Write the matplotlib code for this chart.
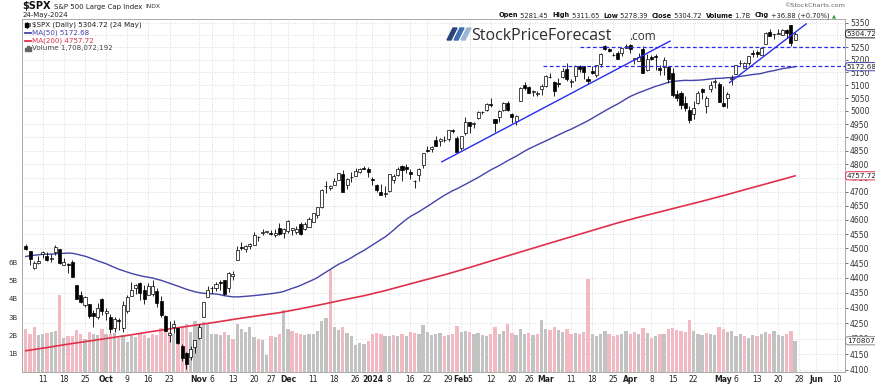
import numpy as np
import pandas as pd
import matplotlib
matplotlib.use("Agg")
import matplotlib.pyplot as plt
import matplotlib.transforms as mtransforms
from matplotlib.lines import Line2D
from matplotlib.patches import Polygon, Rectangle
from matplotlib.ticker import FixedLocator, FixedFormatter, NullLocator

W, H = 875, 385

# ---- daily $SPX data, 5 Sep 2023 .. 24 May 2024 ----
opens = [
    4510.06, 4490.35, 4434.55, 4451.30, 4480.98, 4473.27, 4462.65, 4487.78, 4497.98, 4445.13,
    4445.41, 4452.81, 4374.36, 4341.74, 4310.62, 4312.88, 4282.63, 4269.65, 4328.18,
    4284.52, 4269.75, 4233.83, 4259.31, 4234.79, 4289.02, 4339.75, 4366.59, 4380.94, 4360.49,
    4342.37, 4345.23, 4357.35, 4321.36, 4273.85, 4210.40, 4235.79, 4232.42, 4175.99, 4152.93,
    4139.39, 4171.33, 4201.27, 4268.26, 4334.23,
    4364.27, 4366.21, 4384.37, 4391.41, 4364.15, 4406.66, 4458.97, 4505.30, 4497.08, 4509.55,
    4511.70, 4538.77, 4553.04, 4555.84, 4554.86, 4545.55, 4571.84, 4554.87,
    4559.43, 4564.37, 4557.25, 4586.23, 4568.84, 4576.20, 4593.39, 4618.30, 4646.20, 4721.04,
    4714.23, 4725.58, 4743.72, 4764.73, 4724.29, 4753.92, 4758.86, 4773.45, 4786.44, 4782.88,
    4745.20, 4725.07, 4697.42, 4690.57, 4703.70, 4741.93, 4759.94, 4792.13, 4791.18, 4772.35,
    4739.13, 4760.10, 4796.28, 4853.42, 4856.80, 4888.56, 4886.66, 4888.91, 4892.95, 4925.89,
    4899.19, 4861.11, 4916.06,
    4957.19, 4950.16, 4973.05, 4995.16, 5004.17, 5026.83, 4967.94, 4976.44, 5003.14, 5031.13,
    4989.32, 4963.03, 5038.83, 5100.92, 5093.00, 5074.60, 5067.20, 5085.36,
    5098.51, 5130.99, 5110.52, 5108.03, 5132.38, 5164.46, 5111.96, 5134.30, 5173.49, 5175.14,
    5123.31, 5154.77, 5139.09, 5181.69, 5253.43, 5242.48, 5219.52, 5228.85, 5226.31, 5248.03,
    5257.97, 5204.29, 5194.37, 5244.05, 5158.95, 5211.37, 5217.03, 5167.88, 5172.95, 5171.51,
    5149.67, 5064.59, 5068.97, 5031.52, 5005.44, 4987.33, 5028.85, 5084.86, 5019.88, 5084.65,
    5114.13, 5103.78, 5029.03, 5049.32, 5122.78,
    5142.42, 5187.20, 5168.98, 5189.03, 5225.49, 5233.08, 5221.10, 5263.26, 5310.07, 5303.10,
    5305.35, 5298.69, 5319.28, 5340.26, 5281.45]
highs = [
    4514.29, 4490.35, 4457.81, 4473.53, 4490.77, 4487.11, 4479.39, 4511.99, 4497.98, 4466.36,
    4449.85, 4461.03, 4375.70, 4357.40, 4338.51, 4313.01, 4292.07, 4317.27, 4333.15,
    4300.58, 4281.15, 4268.50, 4267.13, 4324.10, 4341.73, 4385.46, 4378.64, 4385.85, 4377.10,
    4383.33, 4393.57, 4364.20, 4339.54, 4276.56, 4255.84, 4259.38, 4232.42, 4183.60, 4156.70,
    4177.47, 4195.55, 4245.64, 4319.72, 4373.62,
    4372.21, 4386.26, 4391.20, 4393.40, 4418.03, 4421.76, 4508.67, 4521.17, 4511.99, 4520.12,
    4557.11, 4542.14, 4568.43, 4560.31, 4564.37, 4568.14, 4587.64, 4569.89,
    4599.39, 4572.37, 4578.56, 4590.74, 4590.92, 4609.23, 4623.71, 4643.93, 4709.69, 4738.57,
    4725.53, 4749.52, 4768.69, 4778.01, 4748.71, 4772.94, 4784.72, 4785.39, 4793.30, 4788.43,
    4754.33, 4729.29, 4726.78, 4721.49, 4764.54, 4765.47, 4790.80, 4798.50, 4802.40, 4782.34,
    4744.23, 4785.79, 4842.07, 4868.41, 4866.48, 4903.68, 4898.15, 4906.69, 4929.31, 4931.09,
    4906.75, 4906.97, 4975.29,
    4957.19, 4957.77, 4999.89, 5000.40, 5030.06, 5048.39, 4971.30, 5002.52, 5032.72, 5038.70,
    4993.71, 4983.21, 5094.39, 5111.06, 5097.66, 5080.69, 5077.37, 5104.99,
    5140.33, 5149.67, 5114.54, 5127.97, 5165.62, 5189.26, 5124.66, 5179.87, 5179.14, 5176.85,
    5136.86, 5175.60, 5180.31, 5226.19, 5261.10, 5246.09, 5229.09, 5235.16, 5249.26, 5264.85,
    5263.95, 5208.34, 5228.75, 5256.59, 5222.18, 5219.57, 5224.81, 5178.43, 5211.78, 5175.03,
    5168.43, 5079.84, 5077.96, 5056.66, 5019.02, 5038.84, 5076.12, 5089.48, 5057.75, 5114.62,
    5123.49, 5110.83, 5096.12, 5073.21, 5139.12,
    5181.00, 5200.23, 5191.95, 5215.30, 5239.66, 5237.26, 5250.37, 5311.76, 5325.49, 5305.45,
    5325.32, 5324.32, 5323.18, 5341.88, 5311.65]
lows = [
    4496.01, 4442.38, 4430.46, 4448.38, 4467.89, 4456.83, 4453.52, 4478.69, 4447.21, 4442.11,
    4416.61, 4401.38, 4329.17, 4316.49, 4302.70, 4265.98, 4238.63, 4264.38, 4274.86,
    4260.21, 4216.45, 4220.48, 4225.91, 4219.55, 4283.79, 4339.64, 4345.34, 4325.43, 4311.97,
    4342.37, 4337.54, 4303.84, 4269.69, 4223.03, 4189.22, 4219.43, 4181.42, 4127.90, 4103.78,
    4132.94, 4153.12, 4197.74, 4268.26, 4334.23,
    4347.53, 4355.41, 4359.76, 4343.94, 4353.34, 4393.82, 4458.97, 4495.31, 4487.83, 4499.66,
    4510.36, 4525.51, 4545.05, 4552.80, 4545.07, 4540.51, 4547.15, 4537.24,
    4554.71, 4546.72, 4551.68, 4546.50, 4565.22, 4574.06, 4593.39, 4608.09, 4643.23, 4694.34,
    4704.69, 4725.58, 4743.72, 4697.82, 4708.35, 4736.77, 4758.45, 4768.90, 4780.98, 4751.99,
    4722.67, 4699.71, 4687.53, 4682.11, 4699.82, 4730.35, 4756.20, 4739.58, 4768.98, 4747.12,
    4714.82, 4740.57, 4785.87, 4844.05, 4844.37, 4865.94, 4869.34, 4881.47, 4887.40, 4916.27,
    4845.15, 4853.52, 4907.99,
    4918.09, 4934.88, 4969.05, 4987.09, 5000.34, 5016.83, 4920.31, 4956.45, 4999.44, 4999.52,
    4955.02, 4946.00, 5038.83, 5081.46, 5068.91, 5057.29, 5058.35, 5061.89,
    5094.16, 5127.18, 5056.82, 5092.22, 5128.21, 5117.50, 5091.14, 5114.48, 5151.88, 5123.30,
    5104.35, 5145.47, 5131.59, 5171.55, 5240.66, 5229.87, 5216.09, 5203.42, 5213.92, 5245.82,
    5229.20, 5184.05, 5194.37, 5146.06, 5157.21, 5197.35, 5160.78, 5138.70, 5138.77, 5107.94,
    5052.47, 5039.83, 5007.25, 5001.89, 4953.56, 4969.40, 5027.96, 5047.02, 4990.58, 5073.14,
    5088.65, 5035.31, 5013.45, 5011.05, 5101.22,
    5142.42, 5178.96, 5165.86, 5180.41, 5209.68, 5211.16, 5217.98, 5263.26, 5296.19, 5283.59,
    5302.40, 5297.87, 5286.01, 5256.93, 5278.39]
closes = [
    4496.83, 4465.48, 4451.14, 4457.49, 4487.46, 4461.90, 4467.44, 4505.10, 4450.32, 4453.53,
    4443.95, 4402.20, 4330.00, 4320.06, 4337.44, 4273.53, 4274.51, 4299.70, 4288.05,
    4288.39, 4229.45, 4263.75, 4258.19, 4308.50, 4335.66, 4358.24, 4376.95, 4349.61, 4327.78,
    4373.63, 4373.20, 4314.60, 4278.00, 4224.16, 4217.04, 4247.68, 4186.77, 4137.23, 4117.37,
    4166.82, 4193.80, 4237.86, 4317.78, 4358.34,
    4365.98, 4378.38, 4382.78, 4347.35, 4415.24, 4411.55, 4495.70, 4502.88, 4508.24, 4514.02,
    4547.38, 4538.19, 4556.62, 4559.34, 4550.43, 4554.89, 4550.58, 4567.80,
    4594.63, 4569.78, 4567.18, 4549.34, 4585.59, 4604.37, 4622.44, 4643.70, 4707.09, 4719.55,
    4719.19, 4740.56, 4768.37, 4698.35, 4746.75, 4754.63, 4774.75, 4781.58, 4783.35, 4769.83,
    4742.83, 4704.81, 4688.68, 4697.24, 4763.54, 4756.50, 4783.45, 4780.24, 4783.83, 4765.98,
    4739.21, 4780.94, 4839.81, 4850.43, 4864.60, 4868.55, 4894.16, 4890.97, 4927.93, 4924.97,
    4845.65, 4906.19, 4958.61,
    4942.81, 4954.23, 4995.06, 4997.91, 5026.61, 5021.84, 4953.17, 5000.62, 5029.73, 5005.57,
    4975.51, 4981.80, 5087.03, 5088.80, 5069.53, 5078.18, 5069.76, 5096.27,
    5137.08, 5130.95, 5078.65, 5104.76, 5157.36, 5123.69, 5117.94, 5175.27, 5165.31, 5150.48,
    5117.09, 5149.42, 5178.51, 5224.62, 5241.53, 5234.18, 5218.19, 5203.58, 5248.49, 5254.35,
    5243.77, 5205.81, 5211.49, 5147.21, 5204.34, 5202.39, 5209.91, 5160.64, 5199.06, 5123.41,
    5061.82, 5051.41, 5022.21, 5011.12, 4967.23, 5010.60, 5070.55, 5071.63, 5048.42, 5099.96,
    5116.17, 5035.69, 5018.39, 5064.20, 5127.79,
    5180.74, 5187.70, 5187.67, 5214.08, 5222.68, 5221.42, 5246.68, 5308.15, 5297.10, 5303.27,
    5308.13, 5321.41, 5307.01, 5267.84, 5304.72]
# volume in billions
volumes = [
    2.35, 2.10, 2.45, 2.00, 2.05, 2.15, 2.20, 2.25, 4.20, 1.85, 1.95, 1.95, 2.30, 2.10, 1.80,
    2.20, 2.05, 2.00, 2.35,
    2.05, 2.10, 2.15, 1.85, 2.00, 1.65, 1.95, 1.90, 2.15, 2.00, 1.85, 2.10, 2.00, 2.40, 2.55,
    2.20, 2.10, 2.15, 2.45, 2.65, 2.20, 2.80, 2.65, 2.75, 2.60,
    2.05, 2.10, 2.00, 2.20, 2.00, 1.80, 2.65, 2.35, 2.20, 2.45, 1.90, 1.80, 1.75, 0.95, 1.95,
    1.90, 2.05, 3.40,
    2.35, 2.25, 2.15, 2.05, 2.00, 2.05, 2.10, 2.25, 2.80, 2.95, 5.60, 2.45, 2.30, 2.45, 2.15,
    1.95, 1.45, 1.60, 1.55, 1.70,
    2.10, 2.15, 2.05, 1.95, 1.95, 2.00, 1.95, 2.10, 1.95, 2.20, 2.15, 2.10, 2.55, 2.20, 2.00,
    2.10, 2.15, 1.95, 2.00, 2.05, 2.50, 2.20, 2.25,
    2.20, 2.05, 2.15, 2.00, 1.95, 2.05, 2.45, 2.10, 2.25, 2.60, 2.15, 2.00, 2.35, 2.10, 2.15,
    2.00, 2.05, 2.85,
    2.35, 2.30, 2.45, 2.30, 2.20, 2.35, 2.10, 2.15, 2.05, 2.20, 5.10, 2.05, 1.95, 2.05, 2.25,
    2.10, 1.95, 2.00, 2.10, 2.25,
    2.10, 2.20, 2.05, 2.40, 2.15, 1.85, 1.95, 2.10, 2.05, 2.35, 2.40, 2.30, 2.25, 2.20, 2.85,
    2.25, 2.05, 2.00, 2.15, 2.05, 2.00, 2.45, 2.35, 2.20, 2.25,
    1.95, 2.10, 1.95, 1.85, 2.00, 1.95, 2.05, 2.20, 2.10, 2.25, 2.00, 1.95, 2.05, 2.25, 1.708]
# closes 26 Jun .. 1 Sep 2023, only needed to start the 50-day average
prior_closes = [
    4328.82, 4378.41, 4376.86, 4396.44, 4450.38, 4455.59, 4446.82, 4411.59, 4398.95, 4409.53,
    4439.26, 4472.16, 4510.04, 4505.42, 4522.79, 4554.98, 4565.72, 4534.87, 4536.34, 4554.64,
    4567.46, 4566.75, 4537.41, 4582.23, 4588.96, 4576.73, 4513.39, 4501.89, 4478.03, 4518.44,
    4499.38, 4467.71, 4468.83, 4464.05, 4489.72, 4437.86, 4404.33, 4370.36, 4369.71, 4399.77,
    4387.55, 4436.01, 4376.31, 4405.71, 4433.31, 4497.63, 4514.87, 4507.66, 4515.77]
# 200-day average (trading-day index, value)
ma200_idx = [0, 5, 10, 15, 20, 25, 30, 35, 40, 45, 50, 55, 60, 65, 70, 75, 80, 85, 90, 95,
             100, 105, 110, 115, 120, 125, 130, 135, 140, 145, 150, 155, 160, 165, 170, 175,
             180, 182]
ma200_vals = [4161, 4171, 4182, 4192, 4202, 4212, 4223, 4233, 4243, 4253, 4264, 4274, 4284,
              4297, 4311, 4326, 4340, 4357, 4376, 4395, 4414, 4435, 4457, 4479, 4501, 4523,
              4545, 4567, 4589, 4609, 4628, 4647, 4666, 4686, 4707, 4728, 4749, 4757.72]

holidays = ["2023-11-23", "2023-12-25", "2024-01-01", "2024-01-15", "2024-02-19",
            "2024-03-29", "2024-05-27"]
tick_dates = ["2023-09-11", "2023-09-18", "2023-09-25", "2023-10-02", "2023-10-09",
              "2023-10-16", "2023-10-23", "2023-11-01", "2023-11-06", "2023-11-13",
              "2023-11-20", "2023-11-27", "2023-12-01", "2023-12-11", "2023-12-18",
              "2023-12-26", "2024-01-02", "2024-01-08", "2024-01-16", "2024-01-22",
              "2024-01-29", "2024-02-01", "2024-02-05", "2024-02-12", "2024-02-20",
              "2024-02-26", "2024-03-01", "2024-03-11", "2024-03-18", "2024-03-25",
              "2024-04-01", "2024-04-08", "2024-04-15", "2024-04-22", "2024-05-01",
              "2024-05-06", "2024-05-13", "2024-05-20", "2024-05-28", "2024-06-03",
              "2024-06-10"]
tick_labels = ["11", "18", "25", "Oct", "9", "16", "23", "Nov", "6", "13", "20", "27", "Dec",
               "11", "18", "26", "2024", "8", "16", "22", "29", "Feb", "5", "12", "20", "26",
               "Mar", "11", "18", "25", "Apr", "8", "15", "22", "May", "6", "13", "20", "28",
               "Jun", "10"]
month_labels = {"Oct", "Nov", "Dec", "2024", "Feb", "Mar", "Apr", "May", "Jun"}
price_levels = list(range(4100, 5351, 50))

# annotation lines (trading-day index, price)
trend1 = ([98.4, 152.4], [4809, 5275])
trend2 = ([166.5, 184.6], [5110, 5345])
hlines = [(131, 5250), (122.4, 5175)]

# ---- calendar ----
days = pd.bdate_range("2023-09-05", "2024-06-28")
days = days[~days.isin(pd.to_datetime(holidays))]
pos = {d: i for i, d in enumerate(days)}
n = len(closes)
x = np.arange(n)
o, hi, lo, c = map(np.array, (opens, highs, lows, closes))
ma50 = pd.Series(prior_closes + closes).rolling(50).mean().to_numpy()[-n:]


def fx(px):
    return px / W


def fy(py):
    return 1 - py / H


fig = plt.figure(figsize=(W / 100, H / 100), dpi=100)
fig.patch.set_facecolor("white")
left, right, top, bottom = 22, 845, 19, 372
axv = fig.add_axes([fx(left), fy(bottom), (right - left) / W, (bottom - top) / H])
ax = axv.twinx()

# volume (left scale)
prev = np.array([prior_closes[-1]] + closes[:-1])
vcol = np.where(c < prev, "#f3b9c2", "#c2c2c2")
axv.bar(x, volumes, width=0.78, color=vcol, linewidth=0, zorder=2)
axv.set_ylim(0, (bottom - top) / 18.3)
axv.set_yticks([1, 2, 3, 4, 5, 6])
axv.set_yticklabels(["1B", "2B", "3B", "4B", "5B", "6B"])
axv.tick_params(axis="y", length=0, labelsize=5, pad=3, colors="#333333")

axv.set_xlim(-0.9, 193.8)
axv.set_xticks([pos[pd.Timestamp(d)] for d in tick_dates])
axv.set_xticklabels(tick_labels)
for t in axv.get_xticklabels():
    if t.get_text() in month_labels:
        t.set_fontweight("bold")
axv.tick_params(axis="x", length=0, labelsize=5.5, pad=2.5, colors="#222222")
axv.grid(axis="x", color="#cfcfcf", linestyle=(0, (1, 2)), linewidth=0.6)
axv.set_axisbelow(True)
for s in axv.spines.values():
    s.set_visible(False)

# price (right, log scale)
ax.set_yscale("log")
ax.set_ylim(5350 * np.exp(-(bottom - 22.7) / 1305), 5350 * np.exp((22.7 - top) / 1305))
ax.yaxis.set_major_locator(FixedLocator(price_levels))
ax.yaxis.set_major_formatter(FixedFormatter([str(v) for v in price_levels]))
ax.yaxis.set_minor_locator(NullLocator())
ax.tick_params(axis="y", length=2.5, width=0.5, labelsize=5.5, pad=1,
               colors="#333333")
ax.grid(axis="y", color="#cfcfcf", linestyle=(0, (1, 2)), linewidth=0.6)
ax.set_axisbelow(True)
for s in ax.spines.values():
    s.set_color("#a8a8a8")
    s.set_linewidth(0.7)

ax.plot(ma200_idx, ma200_vals, color="#e0304c", lw=1.2, zorder=3)
ax.plot(x, ma50, color="#4343a8", lw=1.0, zorder=3)

up = c >= o
body_lo = np.minimum(o, c)
body_h = np.maximum(np.abs(c - o), 0.6)
ax.vlines(x, lo, hi, color="black", lw=0.6, zorder=4)
ax.bar(x, body_h, bottom=body_lo, width=0.72,
       color=np.where(up, "white", "black"), edgecolor="black", linewidth=0.5, zorder=5)

ax.plot(*trend1, color="#2b2bf0", lw=1.0, zorder=6)
ax.plot(*trend2, color="#2b2bf0", lw=1.0, zorder=6)
for start, lvl in hlines:
    ax.plot([start, 193.8], [lvl, lvl], color="#2b2bf0", lw=0.9,
            linestyle=(0, (3, 2)), zorder=6)

# value tags on the right scale
tag_tf = mtransforms.blended_transform_factory(ax.transAxes, ax.transData)
vol_tf = mtransforms.blended_transform_factory(ax.transAxes, axv.transData)
tags = [("5304.72", closes[-1], "#222222", tag_tf),
        ("5172.68", 5172.68, "#4343a8", tag_tf),
        ("4757.72", 4757.72, "#e0304c", tag_tf),
        ("1708072", volumes[-1], "#888888", vol_tf)]
for txt, val, col, tf in tags:
    ax.annotate(txt, xy=(1, val), xycoords=tf, xytext=(1.2, 0), textcoords="offset points",
                ha="left", va="center", fontsize=5.2, color="#222222", zorder=20,
                annotation_clip=False,
                bbox=dict(boxstyle="round,pad=0.15,rounding_size=0.35", fc="white",
                          ec=col, lw=0.7))

# ---- header ----
fig.canvas.draw()
rend = fig.canvas.get_renderer()


def put_row(xp, yp, parts, size):
    # place text pieces one after another, starting at xp (pixels)
    for s, wgt, col in parts:
        t = fig.text(fx(xp), fy(yp), s, fontsize=size, fontweight=wgt, color=col,
                     va="center")
        xp += t.get_window_extent(renderer=rend).width
    return xp


t = fig.text(fx(22.5), fy(6), "$SPX", fontsize=7, fontweight="bold", color="#111111",
             va="center")
xe = 22.5 + t.get_window_extent(renderer=rend).width + 3
t = fig.text(fx(xe), fy(6.5), "S&P 500 Large Cap Index", fontsize=5, color="#222222",
             va="center")
xe += t.get_window_extent(renderer=rend).width + 3
fig.text(fx(xe), fy(6.5), "INDX", fontsize=4.3, color="#333333", va="center")
fig.text(fx(22.5), fy(15.5), "24-May-2024", fontsize=5, color="#222222", va="center")
fig.text(fx(845), fy(5.5), "\u00a9StockCharts.com", fontsize=4.6, color="#666666",
         va="center", ha="right")

parts = [("Open", "bold", "#111111"), (" 5281.45  ", "normal", "#222222"),
         ("High", "bold", "#111111"), (" 5311.65  ", "normal", "#222222"),
         ("Low", "bold", "#111111"), (" 5278.39  ", "normal", "#222222"),
         ("Close", "bold", "#111111"), (" 5304.72  ", "normal", "#222222"),
         ("Volume", "bold", "#111111"), (" 1.7B  ", "normal", "#222222"),
         ("Chg", "bold", "#111111"), (" +36.88 (+0.70%) ", "normal", "#222222")]
xend = put_row(499, 15.5, parts, 4.8)
fig.text(fx(xend), fy(15.5), "\u25b2", fontsize=3.8, color="#2a9a2a", va="center")

# legend in the chart
fig.add_artist(Line2D([fx(26.5), fx(26.5)], [fy(22), fy(28)], color="black", lw=0.5))
fig.add_artist(Rectangle((fx(25.3), fy(27)), 2.4 / W, 4 / H, color="black"))
fig.add_artist(Rectangle((fx(28.5), fy(26)), 1.8 / W, 3 / H, fc="white", ec="black", lw=0.4))
fig.text(fx(32), fy(25), "$SPX (Daily) 5304.72 (24 May)", fontsize=5.1, color="#222222",
         va="center")
fig.add_artist(Line2D([fx(25), fx(31)], [fy(33), fy(33)], color="#4343a8", lw=1.3))
fig.text(fx(32), fy(33), "MA(50) 5172.68", fontsize=5.1, color="#4343a8", va="center")
fig.add_artist(Line2D([fx(25), fx(31)], [fy(40.7), fy(40.7)], color="#e0304c", lw=1.3))
fig.text(fx(32), fy(40.7), "MA(200) 4757.72", fontsize=5.1, color="#e0304c", va="center")
for bx, bh in [(25, 3), (27, 5), (29, 4)]:
    fig.add_artist(Rectangle((fx(bx), fy(50.5)), 1.5 / W, bh / H, color="#666666"))
fig.text(fx(32), fy(48.2), "Volume 1,708,072,192", fontsize=5.1, color="#444444",
         va="center")

# StockPriceForecast logo
for i, col in enumerate(["#27457a", "#3f6fb0", "#9bb7d6"]):
    x0 = 447 + i * 7
    pts = [(x0, 40), (x0 + 4, 40), (x0 + 10, 28), (x0 + 6, 28)]
    fig.add_artist(Polygon([(fx(a), fy(b)) for a, b in pts], closed=True, color=col))
fig.text(fx(471), fy(40), "StockPriceForecast", fontsize=11.5, color="#2c2c2c",
         family="Open Sans", va="baseline")
fig.text(fx(629), fy(40), ".com", fontsize=8.5, color="#333333", family="Open Sans",
         va="baseline")

fig.savefig("out.png", dpi=100)
